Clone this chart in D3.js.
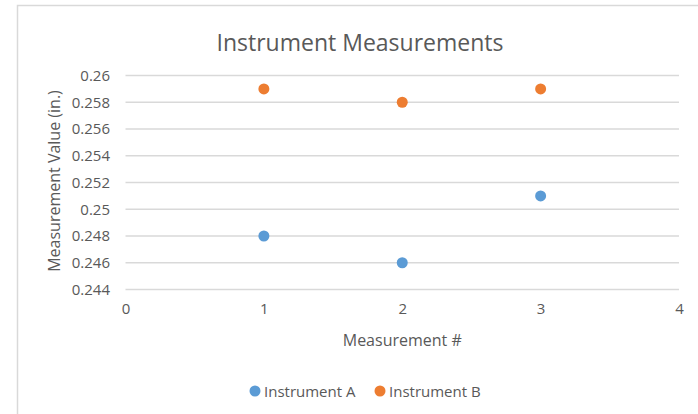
<!DOCTYPE html>
<html>
<head>
<meta charset="utf-8">
<script src="https://cdn.jsdelivr.net/npm/d3@7"></script>
<style>
  body { margin: 0; background: #fff; }
  svg { font-family: "Open Sans", sans-serif; }
</style>
</head>
<body>
<svg id="chart" width="698" height="414"></svg>
<script>
// data
const measurements = [1, 2, 3];
const instrumentA = [0.248, 0.246, 0.251];
const instrumentB = [0.259, 0.258, 0.259];
const seriesNames = ["Instrument A", "Instrument B"];
const seriesColors = ["#5B9BD5", "#ED7D31"];
const xTicks = [0, 1, 2, 3, 4];
const yTicks = [0.244, 0.246, 0.248, 0.25, 0.252, 0.254, 0.256, 0.258, 0.26];

const svg = d3.select("#chart");
const textColor = "#595959";

// chart frame (only top and left edges show)
svg.append("path")
  .attr("d", "M17.5,414 V5.5 H698")
  .attr("fill", "none")
  .attr("stroke", "#D9D9D9")
  .attr("stroke-width", 1.5);

const xScale = d3.scaleLinear().domain([0, 4]).range([125.5, 679]);
const yScale = d3.scaleLinear().domain([0.244, 0.26]).range([289.5, 75.5]);

// gridlines
svg.append("g")
  .selectAll("line")
  .data(yTicks)
  .join("line")
  .attr("x1", xScale(0))
  .attr("x2", xScale(4))
  .attr("y1", d => yScale(d))
  .attr("y2", d => yScale(d))
  .attr("stroke", "#D9D9D9")
  .attr("stroke-width", 1.3);

// y axis labels
const yAxis = d3.axisLeft(yScale)
  .tickValues(yTicks)
  .tickSize(0)
  .tickPadding(0)
  .tickFormat(d => String(+d.toFixed(3)));
svg.append("g")
  .attr("transform", "translate(110,0)")
  .call(yAxis)
  .call(g => g.select(".domain").remove())
  .selectAll("text")
  .attr("fill", textColor)
  .style("font-size", "15px")
  .style("font-family", "Open Sans");

// x axis labels
const xAxis = d3.axisBottom(xScale)
  .tickValues(xTicks)
  .tickSize(0)
  .tickPadding(0)
  .tickFormat(d3.format("d"));
svg.append("g")
  .attr("transform", "translate(0,303)")
  .call(xAxis)
  .call(g => g.select(".domain").remove())
  .selectAll("text")
  .attr("fill", textColor)
  .style("font-size", "15px")
  .style("font-family", "Open Sans");

// title
svg.append("text")
  .attr("x", 360)
  .attr("y", 51)
  .attr("text-anchor", "middle")
  .attr("fill", textColor)
  .style("font-size", "23px")
  .text("Instrument Measurements");

// axis titles
svg.append("text")
  .attr("x", xScale(2))
  .attr("y", 346)
  .attr("text-anchor", "middle")
  .attr("fill", textColor)
  .style("font-size", "16px")
  .text("Measurement #");

svg.append("text")
  .attr("transform", "translate(60,181) rotate(-90)")
  .attr("text-anchor", "middle")
  .attr("fill", textColor)
  .style("font-size", "16px")
  .text("Measurement Value (in.)");

// points
const series = [instrumentA, instrumentB];
series.forEach((vals, i) => {
  svg.append("g")
    .selectAll("circle")
    .data(vals)
    .join("circle")
    .attr("cx", (d, j) => xScale(measurements[j]))
    .attr("cy", d => yScale(d))
    .attr("r", 5.5)
    .attr("fill", seriesColors[i]);
});

// legend
const legendX = [255, 380];
const legend = svg.append("g");
seriesNames.forEach((name, i) => {
  legend.append("circle")
    .attr("cx", legendX[i])
    .attr("cy", 391)
    .attr("r", 5.5)
    .attr("fill", seriesColors[i]);
  legend.append("text")
    .attr("x", legendX[i] + 9)
    .attr("y", 396.5)
    .attr("fill", textColor)
    .style("font-size", "15px")
    .text(name);
});
</script>
</body>
</html>
